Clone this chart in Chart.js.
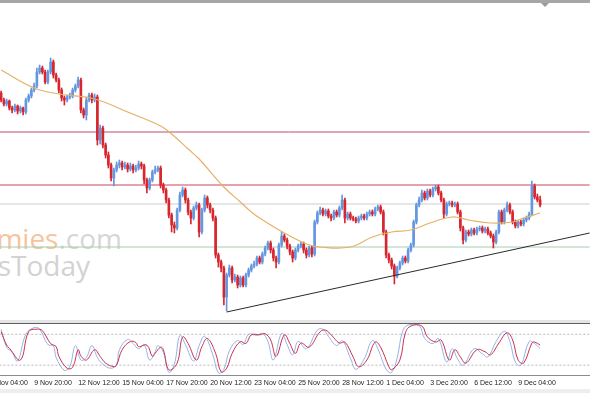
<!DOCTYPE html>
<html>
<head>
<meta charset="utf-8">
<script src="https://cdn.jsdelivr.net/npm/chart.js@4.4.1/dist/chart.umd.min.js"></script>
<style>
html, body { margin: 0; padding: 0; background: #fff; }
#wrap { position: relative; width: 590px; height: 393px; overflow: hidden; background: #fff; }
#main { position: absolute; left: -14px; top: 0; }
#stoch { position: absolute; left: -14px; top: 324px; }
.mark { position: absolute; white-space: nowrap; font-family: "Open Sans", sans-serif; font-size: 28px; line-height: 1; }
.rule { position: absolute; left: 0; width: 590px; }
</style>
</head>
<body>
<div id="wrap">
  <div class="mark" style="right:468px; top:224px;"><span style="color:#f6c49c">Economies</span><span style="color:#d6d6d6">.com</span></div>
  <div class="mark" style="right:500px; top:251px; color:#d2d2d2">NewsToday</div>
  <canvas id="main" width="605" height="320"></canvas>
  <div class="rule" style="top:320px; height:3px; background:#e4e4e4"></div>
  <div class="rule" style="top:323px; height:1px; background:#606060"></div>
  <canvas id="stoch" width="605" height="69"></canvas>
  <div class="rule" style="top:375px; height:1px; background:#8c8c8c"></div>
  <div class="rule" style="top:389px; height:4px; background:#eeeeee"></div>
  <div class="rule" style="top:0; height:3px; background:#a6a6a6"></div>
  <div style="position:absolute; left:541px; top:3px; width:0; height:0; border-left:4px solid transparent; border-right:4px solid transparent; border-top:4px solid #9a9a9a"></div>
</div>
<script>
// H4 bars, prices in points
const opens = [227,220,216,219,212,210,214,209,212,208,
  220,224,230,234,248,252,248,238,248,258,
  245,240,230,222,220,223,224,230,234,240,
  210,205,220,225,220,223,180,192,175,165,
  155,142,150,155,157,153,155,151,154,150,
  152,156,154,140,132,140,148,150,152,135,
  130,120,105,95,92,110,125,130,120,108,
  102,112,115,88,110,122,115,110,102,65,
  58,52,23,45,52,40,43,35,42,35,
  45,50,54,56,62,58,66,72,77,70,
  62,58,75,84,80,74,68,62,70,74,
  76,70,65,72,66,98,107,110,106,109,
  104,102,108,105,112,120,102,106,102,101,
  99,102,104,102,106,108,106,111,113,108,
  88,65,60,54,44,52,57,62,59,70,
  75,98,115,120,127,122,129,125,131,133,
  127,120,106,116,117,115,116,108,92,80,
  88,86,90,87,91,92,89,91,87,84,
  78,88,108,98,110,115,108,98,94,98,
  96,100,102,106,134,123,120];
const closes = [220,216,219,212,210,214,209,212,208,220,
  224,230,234,248,252,248,238,248,258,245,
  240,230,222,220,223,224,230,234,240,210,
  205,220,225,220,223,180,192,175,165,155,
  142,150,155,157,153,155,151,154,150,152,
  156,154,140,132,140,148,150,152,135,130,
  120,105,95,92,110,125,130,120,108,102,
  112,115,88,110,122,115,110,102,65,58,
  52,23,45,52,40,43,35,42,35,45,
  50,54,56,62,58,66,72,77,70,62,
  58,75,84,80,74,68,62,70,74,76,
  70,65,72,66,98,107,110,106,109,104,
  102,108,105,112,120,102,106,102,101,99,
  102,104,102,106,108,106,111,113,108,88,
  65,60,54,44,52,57,62,59,70,75,
  98,115,120,127,122,129,125,131,133,127,
  120,106,116,117,115,116,108,92,80,88,
  86,90,87,91,92,89,91,87,84,78,
  88,108,98,110,115,108,98,94,98,96,
  100,102,106,134,123,120,115];
const highs = [229,222,221,220,214,216,215,214,213,222,
  226,232,237,252,255,254,250,250,262,260,
  247,242,232,224,225,227,232,236,243,242,
  212,223,227,227,226,225,195,194,177,168,
  157,152,158,160,159,158,157,157,156,155,
  159,158,156,142,142,150,154,154,154,137,
  132,122,107,98,112,128,133,132,122,110,
  114,118,117,112,125,124,117,112,104,67,
  60,54,47,55,54,46,45,44,44,47,
  52,56,59,64,64,68,74,79,79,72,
  64,77,88,86,82,76,70,72,76,78,
  78,72,74,74,100,109,113,112,111,111,
  106,110,110,114,125,122,108,108,104,103,
  104,106,106,108,110,110,113,115,115,110,
  90,67,62,56,54,59,64,64,72,77,
  100,117,123,130,129,131,131,133,135,135,
  129,122,118,119,119,118,118,110,94,90,
  90,92,92,93,94,94,93,93,89,86,
  90,110,110,112,118,117,110,100,100,100,
  102,104,108,139,136,126,124];
const lows = [218,214,214,210,207,208,206,207,205,206,
  218,222,228,232,246,246,236,236,246,242,
  238,227,219,215,218,221,222,228,232,207,
  202,200,218,217,218,175,176,172,162,152,
  139,134,148,152,150,151,148,149,147,148,
  150,151,136,127,130,138,146,148,132,127,
  117,102,88,87,90,108,123,117,105,96,
  100,110,83,86,108,112,107,99,62,53,
  48,15,9,43,37,38,32,33,33,33,
  43,48,52,54,56,56,64,70,67,59,
  52,56,73,78,71,65,58,60,68,72,
  67,62,63,63,64,96,105,104,104,102,
  99,100,103,103,110,97,100,100,99,97,
  97,100,100,100,104,104,104,109,106,85,
  62,57,51,36,42,50,55,57,57,68,
  73,96,113,118,120,120,123,123,129,125,
  118,102,104,114,113,113,106,89,76,78,
  84,84,85,85,89,87,87,85,82,72,
  76,86,96,96,108,106,96,92,92,94,
  94,98,100,104,121,118,113];

// moving average (bar index -> value)
const maBars = [0,12,21,34,46,58,62,68,72,81,87,91,94,103,111,116,127,135,142,149,156,164,170,178,186,190,196];
const maValues = [250,232,226,221,208,194,186,171,161,133,118,108,102,87,76,73,73,83,88,90,97,103,100,97,98,102,107];

// horizontal levels and trendline
const levelValues = [188, 135, 116, 73];
const trendBars = [82, 214];
const trendValues = [8, 87];

// stochastic %K / %D
const kBars = [0,2,4,6,9,12,14,17,19,20,23,25,27,29,31,33,35,37,40,42,43,46,48,50,52,54,56,57,59,61,63,65,67,70,72,74,77,79,81,83,86,88,90,93,95,97,99,102,104,106,108,111,115,117,119,122,124,127,129,132,135,137,140,142,144,146,148,152,154,157,159,162,164,166,168,172,175,177,180,183,185,187,189,192,194,196];
const kValues = [90,55,45,28,80,93,90,60,58,35,10,18,58,30,35,58,35,22,14,22,50,70,62,52,60,30,46,58,45,6,22,78,60,28,58,76,40,5,12,48,68,60,80,78,82,66,30,82,60,40,66,52,88,90,76,58,68,34,12,32,68,52,12,6,34,86,98,97,72,62,72,26,52,32,20,52,42,36,66,86,66,26,20,66,62,52];
const dBars = [0,2,3,7,10,13,15,18,20,21,24,26,28,29,31,34,36,38,41,42,44,47,49,50,53,55,56,58,59,61,64,66,68,71,73,75,78,80,82,84,87,89,91,94,96,98,100,103,105,107,109,112,116,118,120,123,125,128,130,133,136,138,141,142,145,147,149,153,155,158,160,163,165,167,169,173,176,178,181,184,186,188,190,193,194,196];
const dValues = [85,59,53,30,85,90,87,62,56,37,14,16,50,38,30,50,37,24,17,20,50,66,64,56,59,37,43,55,50,11,24,75,62,30,56,72,43,7,14,43,66,62,79,79,81,69,37,79,62,43,63,55,85,88,79,63,65,36,17,30,65,55,17,11,30,83,96,96,75,65,69,30,50,36,24,50,46,40,63,83,69,30,24,63,65,59];
const stochLevels = [80, 20];

const tickLabels = ['7 Nov 04:00','9 Nov 20:00','12 Nov 12:00','15 Nov 04:00','17 Nov 20:00','20 Nov 12:00',
  '23 Nov 04:00','25 Nov 20:00','28 Nov 12:00','1 Dec 04:00','3 Dec 20:00','6 Dec 12:00','9 Dec 04:00'];

// time axis: 5 empty slots before the first bar, chart shift after the last
const LEAD = 5, SLOTS = 220;
const monthNames = ['Jan','Feb','Mar','Apr','May','Jun','Jul','Aug','Sep','Oct','Nov','Dec'];
const firstSlot = Date.UTC(2020, 10, 7, 0);
const categories = [];
for (let i = 0; i < SLOTS; i++) {
  const d = new Date(firstSlot + i * 4 * 3600 * 1000);
  categories.push(d.getUTCDate() + ' ' + monthNames[d.getUTCMonth()] + ' ' + String(d.getUTCHours()).padStart(2, '0') + ':00');
}
const at = bar => categories[bar + LEAD];

const BULL = '#6497e0', BEAR = '#d8262e';
const bodies = categories.map(() => null);
const wicks = categories.map(() => null);
const barColors = categories.map(() => BULL);
opens.forEach((o, i) => {
  bodies[i + LEAD] = [o, closes[i]];
  wicks[i + LEAD] = [lows[i], highs[i]];
  barColors[i + LEAD] = closes[i] >= o ? BULL : BEAR;
});

const levelColors = ['#b9506a', '#c8465a', '#cdcdcd', '#a2d0b0'];
const levelSets = levelValues.map((v, i) => ({
  type: 'line',
  data: [{ x: categories[0], y: v }, { x: categories[SLOTS - 1], y: v }],
  borderColor: levelColors[i], borderWidth: 1, pointRadius: 0, order: 5
}));

new Chart(document.getElementById('main'), {
  type: 'bar',
  data: {
    labels: categories,
    datasets: [
      {
        type: 'line',
        data: trendBars.map((b, i) => ({ x: at(b), y: trendValues[i] })),
        borderColor: '#2a2a2a', borderWidth: 1, pointRadius: 0, order: 0
      },
      {
        type: 'line',
        data: maBars.map((b, i) => ({ x: at(b), y: maValues[i] })),
        borderColor: '#e6b068', borderWidth: 1.2, pointRadius: 0, tension: 0.4, order: 1
      },
      { data: bodies, backgroundColor: barColors, barThickness: 2, grouped: false, order: 2 },
      { data: wicks, backgroundColor: barColors, barThickness: 1, grouped: false, order: 3 },
      ...levelSets
    ]
  },
  options: {
    responsive: false,
    animation: false,
    devicePixelRatio: 1,
    layout: { padding: 0 },
    plugins: { legend: { display: false }, tooltip: { enabled: false } },
    scales: {
      x: { display: false, offset: true },
      y: { display: false, min: 0, max: 320 }
    }
  }
});

new Chart(document.getElementById('stoch'), {
  type: 'line',
  data: {
    labels: categories,
    datasets: [
      {
        data: dBars.map((b, i) => ({ x: at(b), y: dValues[i] })),
        borderColor: '#c8304e', borderWidth: 1, pointRadius: 0, tension: 0.4
      },
      {
        data: kBars.map((b, i) => ({ x: at(b), y: kValues[i] })),
        borderColor: '#94b2e6', borderWidth: 1, pointRadius: 0, tension: 0.4
      },
      ...stochLevels.map(v => ({
        data: [{ x: categories[0], y: v }, { x: categories[SLOTS - 1], y: v }],
        borderColor: '#b8b8b8', borderWidth: 1, borderDash: [2, 2], pointRadius: 0
      }))
    ]
  },
  options: {
    responsive: false,
    animation: false,
    devicePixelRatio: 1,
    layout: { padding: 0 },
    plugins: { legend: { display: false }, tooltip: { enabled: false } },
    scales: {
      x: {
        offset: true,
        grid: { display: false, drawTicks: false },
        border: { display: false },
        afterFit: s => { s.height = 17; },
        ticks: {
          autoSkip: false, maxRotation: 0, minRotation: 0, align: 'start', padding: 3,
          color: '#222', font: { family: 'Liberation Sans', size: 7 },
          callback: v => tickLabels.includes(categories[v]) ? categories[v] : null
        }
      },
      y: { display: false, min: -1, max: 100 }
    }
  }
});
</script>
</body>
</html>
